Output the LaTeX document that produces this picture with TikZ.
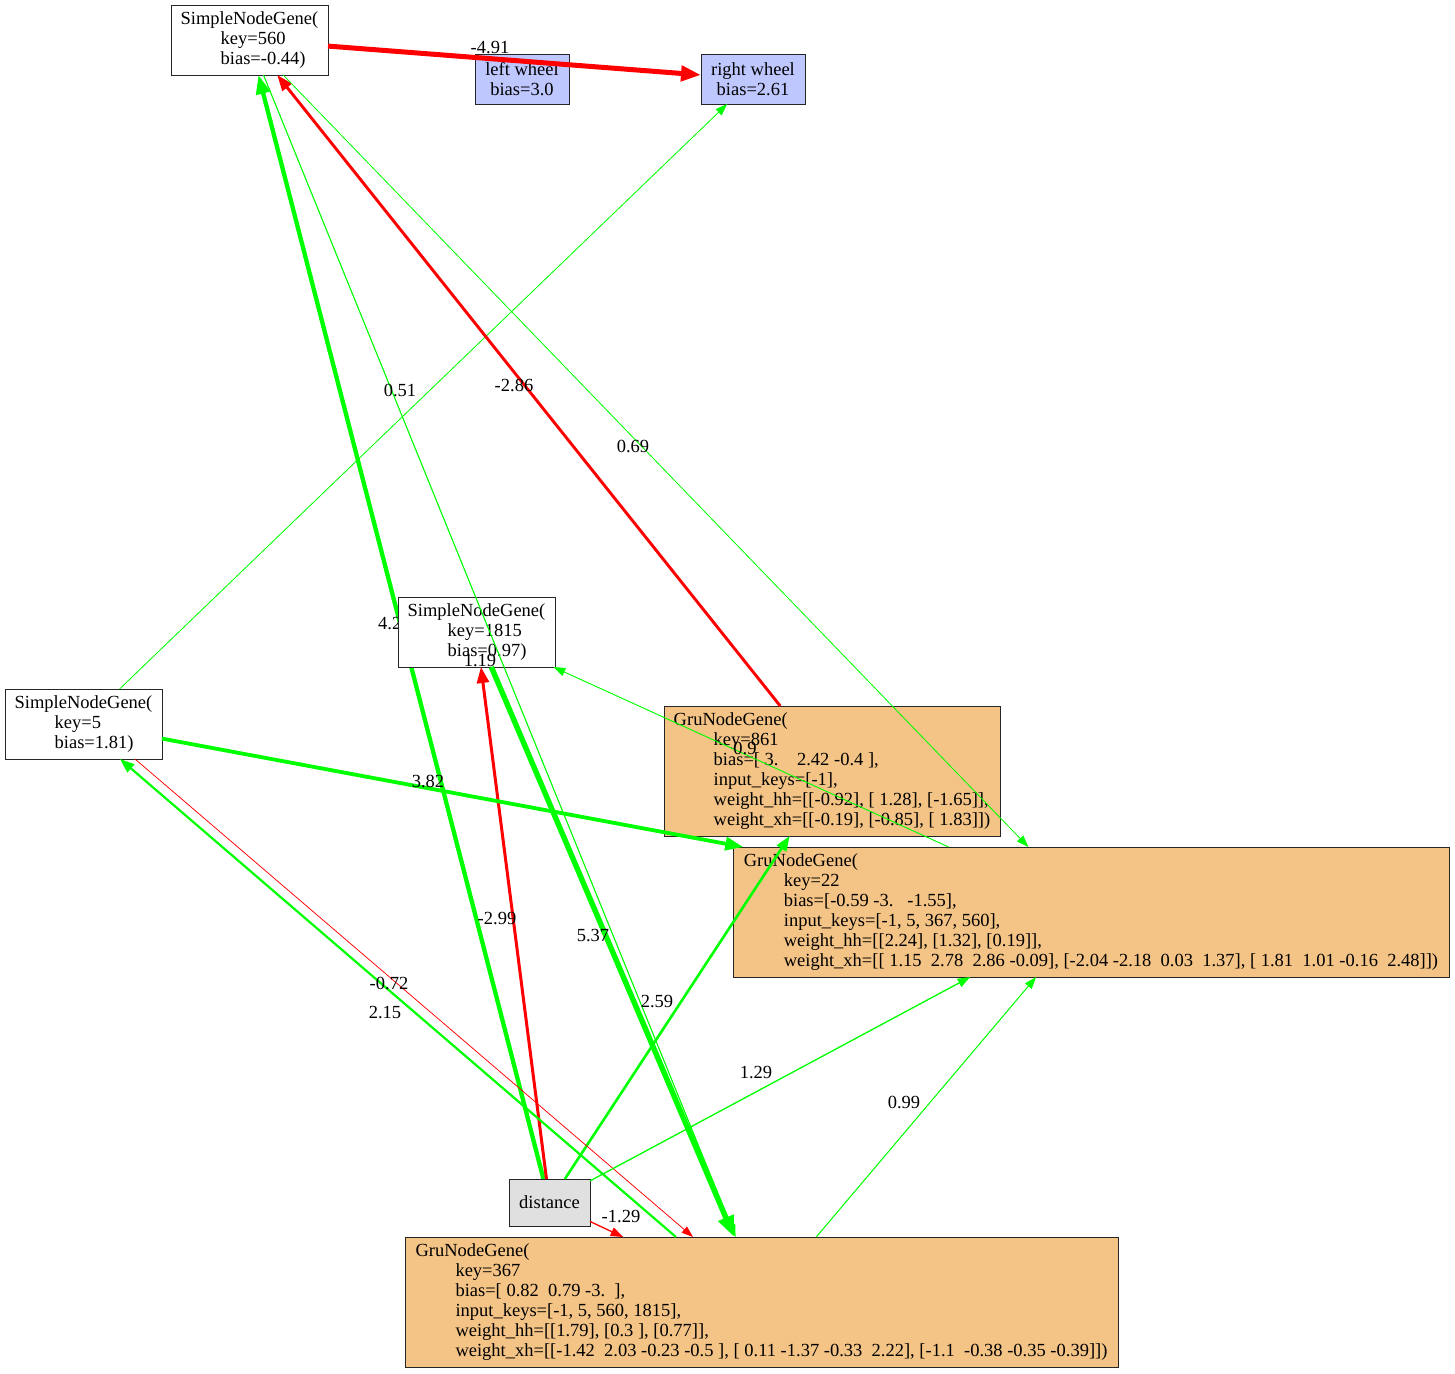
\documentclass[tikz,border=0pt]{standalone}
\usepackage{fontspec}
\setmainfont{Liberation Serif}
\usetikzlibrary{arrows.meta,backgrounds}

\definecolor{gruorange}{RGB}{244,195,134}
\definecolor{ioblue}{RGB}{191,199,255}
\definecolor{sensorgray}{RGB}{224,224,224}
\definecolor{poswt}{RGB}{0,255,0}
\definecolor{negwt}{RGB}{255,0,0}

% indentation of the attribute lines inside a gene box
\newcommand\indl{\hspace*{40pt}}

\begin{document}
\begin{tikzpicture}[x=1pt,y=-1pt,
  font=\fontsize{18.5}{20}\selectfont,
  gene/.style={draw=black!85, line width=1pt, inner sep=0pt, outer sep=0pt, align=left},
  simple/.style={gene, fill=white, minimum width=157pt, minimum height=70pt},
  gru/.style={gene, fill=gruorange, minimum height=130pt},
  io/.style={gene, fill=ioblue, align=center, minimum height=50pt},
  sensor/.style={gene, fill=sensorgray, align=center},
  poswire/.style={draw=poswt, fill=poswt},
  negwire/.style={draw=negwt, fill=negwt},
  ed/.style args={#1/#2/#3}{line width=#1pt, -{Triangle[length=#2pt,width=#3pt]}},
  lbl/.style={inner sep=0pt}]
\useasboundingbox (0,0) rectangle (1455,1373);

% ---- nodes ----
\node[simple] (n560) at (249.5,40) {SimpleNodeGene(\\\indl key=560\\\indl bias=-0.44)};
\node[io, minimum width=94pt] (lw) at (522,79) {left wheel\\bias=3.0};
\node[io, minimum width=104pt] (rw) at (753,79) {right wheel\\bias=2.61};
\node[simple] (n1815) at (476.5,632) {SimpleNodeGene(\\\indl key=1815\\\indl bias=0.97)};
\node[simple] (n5) at (83.5,724) {SimpleNodeGene(\\\indl key=5\\\indl bias=1.81)};
\node[gru, minimum width=336pt] (n861) at (832,771) {GruNodeGene(\\
  \indl key=861\\
  \indl bias=[ 3.~~~~2.42 -0.4 ],\\
  \indl input\_keys=[-1],\\
  \indl weight\_hh=[[-0.92], [ 1.28], [-1.65]],\\
  \indl weight\_xh=[[-0.19], [-0.85], [ 1.83]])};
\node[gru, minimum width=716pt] (n22) at (1091,912) {GruNodeGene(\\
  \indl key=22\\
  \indl bias=[-0.59 -3.~~~-1.55],\\
  \indl input\_keys=[-1, 5, 367, 560],\\
  \indl weight\_hh=[[2.24], [1.32], [0.19]],\\
  \indl weight\_xh=[[ 1.15~~2.78~~2.86 -0.09], [-2.04 -2.18~~0.03~~1.37], [ 1.81~~1.01 -0.16~~2.48]])};
\node[sensor, minimum width=81pt, minimum height=47pt] (dist) at (549.5,1202.5) {distance};
\node[gru, minimum width=713pt] (n367) at (761.5,1302) {GruNodeGene(\\
  \indl key=367\\
  \indl bias=[ 0.82~~0.79 -3.~~],\\
  \indl input\_keys=[-1, 5, 560, 1815],\\
  \indl weight\_hh=[[1.79], [0.3 ], [0.77]],\\
  \indl weight\_xh=[[-1.42~~2.03 -0.23 -0.5 ], [ 0.11 -1.37 -0.33~~2.22], [-1.1~~-0.38 -0.35 -0.39]])};

% ---- connection passing behind node 1815 ----
\begin{scope}[on background layer]
  \draw[poswire, ed=4.3/19/14] (dist) -- (n560);
  \node[lbl, anchor=west] (w42) at (378,623) {4.2};
\end{scope}

% ---- connections ----
\draw[negwire, ed=5/20/15] (n560) -- (rw);
\draw[poswire, ed=0.8/12/8.5] (n5) -- (rw);
\draw[negwire, ed=2.9/16/11.5] (n861) -- (n560);
\draw[poswire, ed=0.8/12/8.5] (n560) -- (n22);
\draw[negwire, ed=3/16/12] (dist) -- (n1815);
\draw[poswire, ed=0.9/12/8.5] (n22) -- (n1815);
\draw[poswire, ed=3.8/18/13] (n5) -- (n22);
\draw[poswire, ed=1.1/12.5/9] (n560) -- (n367);
\draw[poswire, ed=5.4/21/15.5] (n1815) -- (n367);
\draw[poswire, ed=2.6/15/11] (dist) -- (n861);
% the two links between 5 and 367 run side by side
\draw[poswire, ed=2.2/14.5/10.5] ([xshift=-85.5pt]n367.north) -- ([xshift=36.5pt]n5.south);
\draw[negwire, ed=0.7/11.5/8] ([xshift=51.5pt]n5.south) -- ([xshift=-68.5pt]n367.north);
\draw[poswire, ed=1.3/12.5/9] (dist) -- (n22);
\draw[poswire, ed=1/12/8.5] (n367) -- (n22);
\draw[negwire, ed=1.3/12.5/9] (dist) -- (n367);

% ---- weight labels ----
\node[lbl] (w491) at (490,48) {-4.91};
\node[lbl] (w051) at (400,390) {0.51};
\node[lbl] (w286) at (514,385) {-2.86};
\node[lbl] (w069) at (633,446) {0.69};
\node[lbl] (w119) at (480,660) {1.19};
\node[lbl] (w09) at (745,748) {0.9};
\node[lbl] (w382) at (428,781) {3.82};
\node[lbl] (w299) at (497,918) {-2.99};
\node[lbl] (w537) at (593,935) {5.37};
\node[lbl] (w072) at (389,983) {-0.72};
\node[lbl] (w215) at (385,1012) {2.15};
\node[lbl] (w259) at (657,1001) {2.59};
\node[lbl] (w129) at (756,1072) {1.29};
\node[lbl] (w099) at (904,1102) {0.99};
\node[lbl] (wm129) at (621,1216) {-1.29};
\end{tikzpicture}
\end{document}
